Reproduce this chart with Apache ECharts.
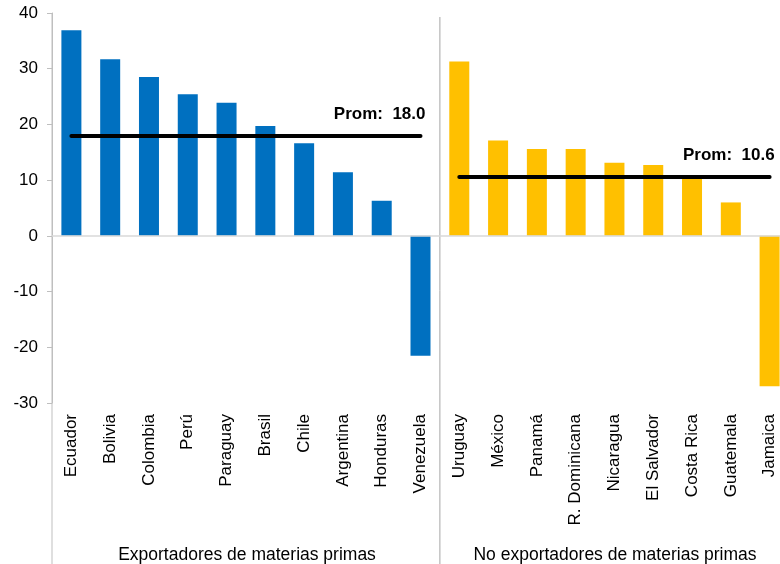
<!DOCTYPE html>
<html>
<head>
<meta charset="utf-8">
<script src="https://cdn.jsdelivr.net/npm/echarts@6/dist/echarts.min.js"></script>
<style>
    html, body { margin: 0; padding: 0; background: #fff; }
    #main { width: 780px; height: 564px; }
</style>
</head>
<body>
<div id="main"></div>
<script>
// datos
const expCountries = ['Ecuador', 'Bolivia', 'Colombia', 'Perú', 'Paraguay', 'Brasil', 'Chile', 'Argentina', 'Honduras', 'Venezuela'];
const expValues = [36.9, 31.7, 28.5, 25.4, 23.9, 19.7, 16.6, 11.4, 6.3, -21.5];
const noExpCountries = ['Uruguay', 'México', 'Panamá', 'R. Dominicana', 'Nicaragua', 'El Salvador', 'Costa Rica', 'Guatemala', 'Jamaica'];
const noExpValues = [31.3, 17.1, 15.6, 15.6, 13.1, 12.7, 10.7, 6.0, -27.0];
const avgExp = 18.0;
const avgNoExp = 10.6;
const groupNames = ['Exportadores de materias primas', 'No exportadores de materias primas'];
const yTicks = [-30, -20, -10, 0, 10, 20, 30, 40];

const categories = expCountries.concat(noExpCountries);
const blank = n => new Array(n).fill('-');
const nExp = expCountries.length;
const nNo = noExpCountries.length;

const labelFont = 'Arial, "Liberation Sans", sans-serif';

function avgLine(from, to, value) {
    return {
        symbol: 'none',
        silent: true,
        lineStyle: { color: '#000', width: 4, type: 'solid', cap: 'round' },
        label: {
            show: true,
            position: 'insideEndTop',
            formatter: 'Prom:  ' + value.toFixed(1),
            color: '#000',
            fontWeight: 'bold',
            fontSize: 17,
            fontFamily: labelFont,
            distance: [-5, 13]
        },
        data: [[{ coord: [from, value] }, { coord: [to, value] }]]
    };
}

const chart = echarts.init(document.getElementById('main'));
chart.setOption({
    animation: false,
    grid: { left: 52, width: 737, top: 13, bottom: 161, containLabel: false, outerBoundsMode: 'none' },
    xAxis: {
        type: 'category',
        data: categories,
        axisLine: { show: false },
        axisTick: { show: false },
        axisLabel: {
            rotate: 90,
            interval: 0,
            margin: 11,
            color: '#000',
            fontSize: 17,
            fontFamily: labelFont
        }
    },
    yAxis: {
        type: 'value',
        min: yTicks[0],
        max: yTicks[yTicks.length - 1],
        interval: 10,
        splitLine: { show: false },
        axisLine: { show: true, lineStyle: { color: '#BFBFBF', width: 1 } },
        axisTick: { show: true, length: 5, lineStyle: { color: '#BFBFBF' } },
        axisLabel: { color: '#000', fontSize: 17, fontFamily: labelFont, margin: 14 }
    },
    series: [
        {
            type: 'bar',
            data: expValues.concat(blank(nNo)),
            barWidth: 20,
            barGap: '-100%',
            itemStyle: { color: '#0070C0' },
            markLine: avgLine(0, nExp - 1, avgExp)
        },
        {
            type: 'bar',
            data: blank(nExp).concat(noExpValues),
            barWidth: 20,
            barGap: '-100%',
            itemStyle: { color: '#FFC000' },
            markLine: avgLine(nExp, nExp + nNo - 1, avgNoExp)
        },
        {
            // linea del cero
            type: 'line',
            data: [],
            markLine: {
                symbol: 'none',
                silent: true,
                label: { show: false },
                lineStyle: { color: '#D9D9D9', width: 1.5, type: 'solid' },
                data: [{ yAxis: 0 }]
            }
        }
    ]
});

// separadores y nombres de grupo
const topPx = chart.convertToPixel({ yAxisIndex: 0 }, yTicks[yTicks.length - 1]);
const leftPx = chart.convertToPixel({ xAxisIndex: 0 }, 0);
const step = chart.convertToPixel({ xAxisIndex: 0 }, 1) - leftPx;
const axisX = leftPx - step / 2;
const sepX = axisX + step * nExp;
const h = 564;

const groupFont = '17.5px Arial, "Liberation Sans", sans-serif';
chart.setOption({
    graphic: [
        { type: 'line', shape: { x1: axisX, y1: topPx, x2: axisX, y2: h }, style: { stroke: '#BFBFBF', lineWidth: 1 } },
        { type: 'line', shape: { x1: sepX, y1: topPx + 4, x2: sepX, y2: h }, style: { stroke: '#A6A6A6', lineWidth: 1 } },
        {
            type: 'text', x: 247, y: 555,
            style: { text: groupNames[0], fill: '#000', font: groupFont, align: 'center', verticalAlign: 'middle' }
        },
        {
            type: 'text', x: 615, y: 555,
            style: { text: groupNames[1], fill: '#000', font: groupFont, align: 'center', verticalAlign: 'middle' }
        }
    ]
});
</script>
</body>
</html>
